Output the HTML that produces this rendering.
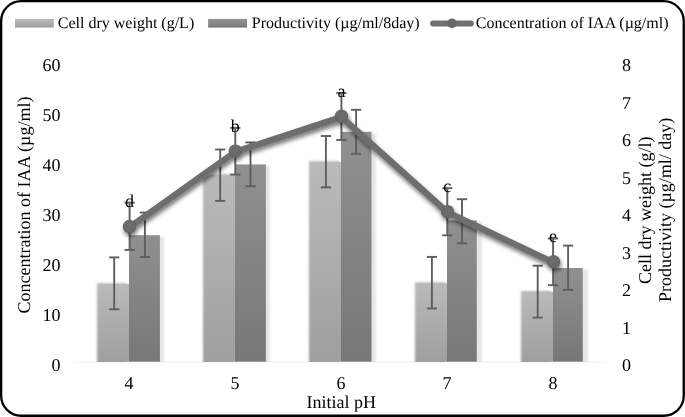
<!DOCTYPE html>
<html><head><meta charset="utf-8"><style>
html,body{margin:0;padding:0;background:#fff;}
svg{display:block;will-change:transform;}
text{font-family:"Liberation Serif",serif;fill:#000;text-rendering:geometricPrecision;}
</style></head><body>
<svg width="685" height="417" viewBox="0 0 685 417">
<defs>
<linearGradient id="gl" x1="0" y1="0" x2="0" y2="1"><stop offset="0" stop-color="#bababa"/><stop offset="1" stop-color="#9f9f9f"/></linearGradient>
<linearGradient id="gd" x1="0" y1="0" x2="0" y2="1"><stop offset="0" stop-color="#909090"/><stop offset="1" stop-color="#777777"/></linearGradient>
<linearGradient id="gls" x1="0" y1="0" x2="0" y2="1"><stop offset="0" stop-color="#bababa"/><stop offset="1" stop-color="#a0a0a0"/></linearGradient>
<linearGradient id="gds" x1="0" y1="0" x2="0" y2="1"><stop offset="0" stop-color="#959595"/><stop offset="1" stop-color="#7a7a7a"/></linearGradient>
<radialGradient id="gm" cx="0.5" cy="0.45" r="0.55"><stop offset="0" stop-color="#6e6e6e"/><stop offset="0.75" stop-color="#6a6a6a"/><stop offset="1" stop-color="#5c5c5c"/></radialGradient>
<filter id="sh" x="-10%" y="-10%" width="120%" height="120%">
<feMorphology in="SourceAlpha" operator="dilate" radius="1.2"/>
<feGaussianBlur stdDeviation="1.5"/>
<feOffset dx="0" dy="1" result="b"/>
<feComponentTransfer><feFuncA type="linear" slope="0.3"/></feComponentTransfer>
<feMerge><feMergeNode/><feMergeNode in="SourceGraphic"/></feMerge>
</filter>
<filter id="shl" x="-10%" y="-30%" width="120%" height="160%">
<feGaussianBlur in="SourceAlpha" stdDeviation="2.3"/>
<feOffset dx="0.5" dy="3" result="b"/>
<feComponentTransfer><feFuncA type="linear" slope="0.55"/></feComponentTransfer>
<feMerge><feMergeNode/><feMergeNode in="SourceGraphic"/></feMerge>
</filter>
<filter id="bl" x="-20%" y="-5%" width="140%" height="110%"><feGaussianBlur stdDeviation="1.2"/></filter>
<filter id="bl2" x="-50%" y="-5%" width="200%" height="110%"><feGaussianBlur stdDeviation="0.8"/></filter>
<clipPath id="pc"><rect x="70" y="40" width="545" height="322"/></clipPath>
</defs>
<rect x="1.15" y="1.15" width="682.6" height="414.6" rx="20" ry="20" fill="#fff" stroke="#000" stroke-width="2.3"/>

<rect x="15" y="18.9" width="38.8" height="8.7" fill="url(#gls)"/>
<text x="57.8" y="27.6" font-size="16">Cell dry weight (g/L)</text>
<rect x="208.1" y="18.9" width="38.9" height="8.7" fill="url(#gds)"/>
<text x="251.8" y="27.6" font-size="16">Productivity (µg/ml/8day)</text>
<line x1="433" y1="23.5" x2="471" y2="23.5" stroke="#717171" stroke-width="5.8" stroke-linecap="round"/>
<circle cx="452" cy="23.4" r="4.9" fill="#676767"/>
<text x="475.8" y="27.6" font-size="16">Concentration of IAA (µg/ml)</text>
<text x="60.5" y="70.7" font-size="18" text-anchor="end">60</text>
<text x="60.5" y="120.7" font-size="18" text-anchor="end">50</text>
<text x="60.5" y="170.7" font-size="18" text-anchor="end">40</text>
<text x="60.5" y="220.7" font-size="18" text-anchor="end">30</text>
<text x="60.5" y="270.7" font-size="18" text-anchor="end">20</text>
<text x="60.5" y="320.7" font-size="18" text-anchor="end">10</text>
<text x="60.5" y="370.7" font-size="18" text-anchor="end">0</text>
<text x="622" y="71.1" font-size="18">8</text>
<text x="622" y="108.6" font-size="18">7</text>
<text x="622" y="146.1" font-size="18">6</text>
<text x="622" y="183.6" font-size="18">5</text>
<text x="622" y="221.1" font-size="18">4</text>
<text x="622" y="258.6" font-size="18">3</text>
<text x="622" y="296.1" font-size="18">2</text>
<text x="622" y="333.6" font-size="18">1</text>
<text x="622" y="371.1" font-size="18">0</text>
<text x="129.0" y="389.2" font-size="18" text-anchor="middle">4</text>
<text x="235.0" y="389.2" font-size="18" text-anchor="middle">5</text>
<text x="341.0" y="389.2" font-size="18" text-anchor="middle">6</text>
<text x="447.0" y="389.2" font-size="18" text-anchor="middle">7</text>
<text x="553.0" y="389.2" font-size="18" text-anchor="middle">8</text>
<text x="341.3" y="408.2" font-size="18" text-anchor="middle">Initial pH</text>
<text transform="translate(29.5,205) rotate(-90)" font-size="18" text-anchor="middle">Concentration of IAA (µg/ml)</text>
<text transform="translate(651,210.2) rotate(-90)" font-size="18" text-anchor="middle">Cell dry weight (g/l)</text>
<text transform="translate(671,209.9) rotate(-90)" font-size="18" text-anchor="middle">Productivity (µg/ml/ day)</text>
<line x1="76" y1="362.0" x2="606" y2="362.0" stroke="#f0f0f0" stroke-width="1"/>
<g clip-path="url(#pc)">
<rect x="96.95" y="283.2" width="30.15" height="82.7" fill="url(#gl)" filter="url(#bl)"/>
<rect x="158.00" y="236.7" width="5.9" height="131.5" fill="#000" fill-opacity="0.1" filter="url(#bl2)"/>
<rect x="202.95" y="174.2" width="30.15" height="191.7" fill="url(#gl)" filter="url(#bl)"/>
<rect x="264.00" y="165.9" width="5.9" height="202.3" fill="#000" fill-opacity="0.1" filter="url(#bl2)"/>
<rect x="308.95" y="161.2" width="30.15" height="204.7" fill="url(#gl)" filter="url(#bl)"/>
<rect x="370.00" y="133.3" width="5.9" height="234.9" fill="#000" fill-opacity="0.1" filter="url(#bl2)"/>
<rect x="414.95" y="282.4" width="30.15" height="83.5" fill="url(#gl)" filter="url(#bl)"/>
<rect x="476.00" y="221.8" width="5.9" height="146.4" fill="#000" fill-opacity="0.1" filter="url(#bl2)"/>
<rect x="520.95" y="291.0" width="30.15" height="74.9" fill="url(#gl)" filter="url(#bl)"/>
<rect x="582.00" y="269.5" width="5.9" height="98.7" fill="#000" fill-opacity="0.1" filter="url(#bl2)"/>
<rect x="98.85" y="284.0" width="30.15" height="77.7" fill="url(#gl)"/>
<rect x="129.00" y="235.2" width="30.90" height="126.5" fill="url(#gd)"/>
<rect x="204.85" y="175.0" width="30.15" height="186.7" fill="url(#gl)"/>
<rect x="235.00" y="164.4" width="30.90" height="197.3" fill="url(#gd)"/>
<rect x="310.85" y="162.0" width="30.15" height="199.7" fill="url(#gl)"/>
<rect x="341.00" y="131.8" width="30.50" height="229.9" fill="url(#gd)"/>
<rect x="416.85" y="283.2" width="30.15" height="78.5" fill="url(#gl)"/>
<rect x="447.00" y="220.3" width="29.80" height="141.4" fill="url(#gd)"/>
<rect x="522.85" y="291.8" width="30.15" height="69.9" fill="url(#gl)"/>
<rect x="553.00" y="268.0" width="29.80" height="93.7" fill="url(#gd)"/>
</g>
<line x1="114.2" y1="257.4" x2="114.2" y2="309.3" stroke="#5e5e5e" stroke-width="1.9"/><line x1="109.2" y1="257.4" x2="119.3" y2="257.4" stroke="#5e5e5e" stroke-width="1.9"/><line x1="109.2" y1="309.3" x2="119.3" y2="309.3" stroke="#5e5e5e" stroke-width="1.9"/>
<line x1="144.9" y1="212.6" x2="144.9" y2="257.0" stroke="#5e5e5e" stroke-width="1.9"/><line x1="139.8" y1="212.6" x2="150.0" y2="212.6" stroke="#5e5e5e" stroke-width="1.9"/><line x1="139.8" y1="257.0" x2="150.0" y2="257.0" stroke="#5e5e5e" stroke-width="1.9"/>
<line x1="220.2" y1="149.5" x2="220.2" y2="200.9" stroke="#5e5e5e" stroke-width="1.9"/><line x1="215.1" y1="149.5" x2="225.3" y2="149.5" stroke="#5e5e5e" stroke-width="1.9"/><line x1="215.1" y1="200.9" x2="225.3" y2="200.9" stroke="#5e5e5e" stroke-width="1.9"/>
<line x1="250.5" y1="142.4" x2="250.5" y2="186.2" stroke="#5e5e5e" stroke-width="1.9"/><line x1="245.4" y1="142.4" x2="255.6" y2="142.4" stroke="#5e5e5e" stroke-width="1.9"/><line x1="245.4" y1="186.2" x2="255.6" y2="186.2" stroke="#5e5e5e" stroke-width="1.9"/>
<line x1="325.9" y1="136.0" x2="325.9" y2="187.4" stroke="#5e5e5e" stroke-width="1.9"/><line x1="320.8" y1="136.0" x2="331.0" y2="136.0" stroke="#5e5e5e" stroke-width="1.9"/><line x1="320.8" y1="187.4" x2="331.0" y2="187.4" stroke="#5e5e5e" stroke-width="1.9"/>
<line x1="356.1" y1="109.8" x2="356.1" y2="153.8" stroke="#5e5e5e" stroke-width="1.9"/><line x1="351.0" y1="109.8" x2="361.2" y2="109.8" stroke="#5e5e5e" stroke-width="1.9"/><line x1="351.0" y1="153.8" x2="361.2" y2="153.8" stroke="#5e5e5e" stroke-width="1.9"/>
<line x1="431.9" y1="256.9" x2="431.9" y2="308.5" stroke="#5e5e5e" stroke-width="1.9"/><line x1="426.8" y1="256.9" x2="437.0" y2="256.9" stroke="#5e5e5e" stroke-width="1.9"/><line x1="426.8" y1="308.5" x2="437.0" y2="308.5" stroke="#5e5e5e" stroke-width="1.9"/>
<line x1="462.0" y1="199.2" x2="462.0" y2="243.3" stroke="#5e5e5e" stroke-width="1.9"/><line x1="456.9" y1="199.2" x2="467.1" y2="199.2" stroke="#5e5e5e" stroke-width="1.9"/><line x1="456.9" y1="243.3" x2="467.1" y2="243.3" stroke="#5e5e5e" stroke-width="1.9"/>
<line x1="537.7" y1="265.7" x2="537.7" y2="317.6" stroke="#5e5e5e" stroke-width="1.9"/><line x1="532.6" y1="265.7" x2="542.8" y2="265.7" stroke="#5e5e5e" stroke-width="1.9"/><line x1="532.6" y1="317.6" x2="542.8" y2="317.6" stroke="#5e5e5e" stroke-width="1.9"/>
<line x1="568.1" y1="245.6" x2="568.1" y2="289.9" stroke="#5e5e5e" stroke-width="1.9"/><line x1="563.0" y1="245.6" x2="573.2" y2="245.6" stroke="#5e5e5e" stroke-width="1.9"/><line x1="563.0" y1="289.9" x2="573.2" y2="289.9" stroke="#5e5e5e" stroke-width="1.9"/>
<line x1="129.6" y1="202.6" x2="129.6" y2="249.9" stroke="#5e5e5e" stroke-width="1.9"/><line x1="124.5" y1="202.6" x2="134.7" y2="202.6" stroke="#5e5e5e" stroke-width="1.9"/><line x1="124.5" y1="249.9" x2="134.7" y2="249.9" stroke="#5e5e5e" stroke-width="1.9"/>
<line x1="235.3" y1="127.9" x2="235.3" y2="174.6" stroke="#5e5e5e" stroke-width="1.9"/><line x1="230.2" y1="127.9" x2="240.4" y2="127.9" stroke="#5e5e5e" stroke-width="1.9"/><line x1="230.2" y1="174.6" x2="240.4" y2="174.6" stroke="#5e5e5e" stroke-width="1.9"/>
<line x1="341.4" y1="93.0" x2="341.4" y2="140.0" stroke="#5e5e5e" stroke-width="1.9"/><line x1="336.3" y1="93.0" x2="346.5" y2="93.0" stroke="#5e5e5e" stroke-width="1.9"/><line x1="336.3" y1="140.0" x2="346.5" y2="140.0" stroke="#5e5e5e" stroke-width="1.9"/>
<line x1="447.3" y1="188.2" x2="447.3" y2="235.3" stroke="#5e5e5e" stroke-width="1.9"/><line x1="442.2" y1="188.2" x2="452.4" y2="188.2" stroke="#5e5e5e" stroke-width="1.9"/><line x1="442.2" y1="235.3" x2="452.4" y2="235.3" stroke="#5e5e5e" stroke-width="1.9"/>
<line x1="553.1" y1="238.5" x2="553.1" y2="285.2" stroke="#5e5e5e" stroke-width="1.9"/><line x1="548.0" y1="238.5" x2="558.2" y2="238.5" stroke="#5e5e5e" stroke-width="1.9"/><line x1="548.0" y1="285.2" x2="558.2" y2="285.2" stroke="#5e5e5e" stroke-width="1.9"/>
<text x="129.6" y="206.6" font-size="18" text-anchor="middle">d</text>
<text x="235.3" y="131.7" font-size="18" text-anchor="middle">b</text>
<text x="341.4" y="97.3" font-size="18" text-anchor="middle">a</text>
<text x="447.3" y="191.6" font-size="18" text-anchor="middle">c</text>
<text x="553.1" y="242.4" font-size="18" text-anchor="middle">e</text>
<g filter="url(#shl)"><polyline points="129.5,227.3 235.4,151.9 341.5,117.1 447.5,212.4 553.6,262.6" fill="none" stroke="#6e6e6e" stroke-width="6.5" stroke-linejoin="round" stroke-linecap="round"/>
<circle cx="129.5" cy="226.5" r="6.7" fill="url(#gm)"/>
<circle cx="235.4" cy="151.1" r="6.7" fill="url(#gm)"/>
<circle cx="341.5" cy="116.3" r="6.7" fill="url(#gm)"/>
<circle cx="447.5" cy="211.6" r="6.7" fill="url(#gm)"/>
<circle cx="553.6" cy="261.8" r="6.7" fill="url(#gm)"/>
</g>
</svg></body></html>
